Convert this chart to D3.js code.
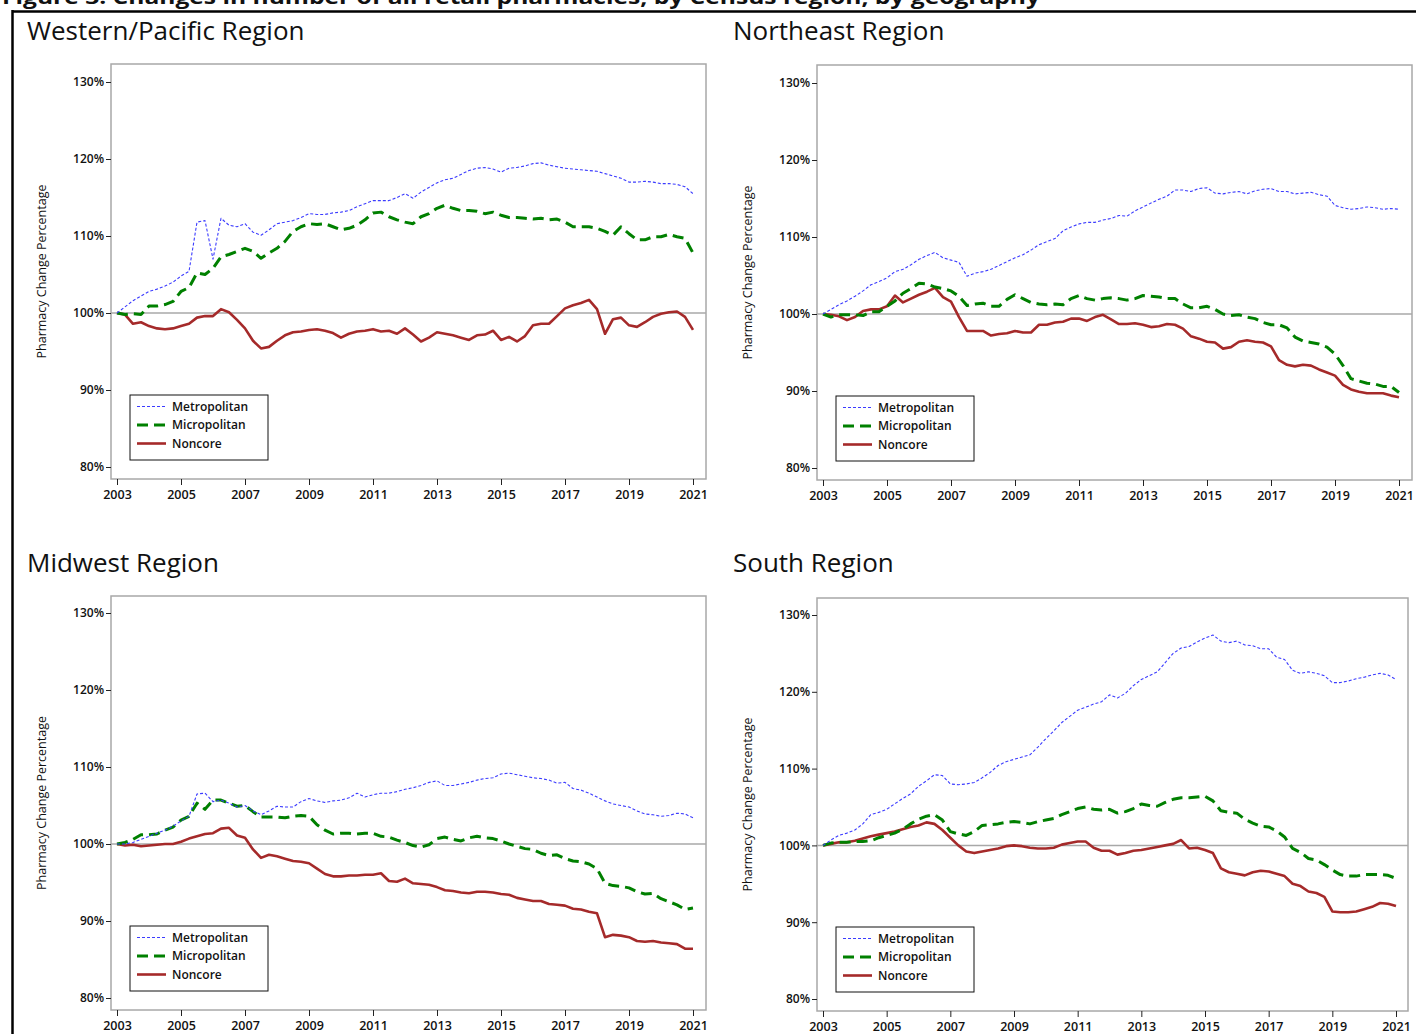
<!DOCTYPE html>
<html>
<head>
    <meta charset="utf-8" />
    <title>Changes in number of all retail pharmacies</title>
    <style>
        body { margin: 0; background: #fff; }
        svg text { font-family: "Open Sans", "Noto Sans", sans-serif; fill: #111; }
        .frame { fill: none; stroke: #a8a8a8; stroke-width: 1.5px; }
        .ref { stroke: #a8a8a8; stroke-width: 1.5px; }
        .axis path { display: none; }
        .axis line { stroke: #222; }
        .axis text { font-size: 12px; font-weight: 600; fill: #111; }
        .xaxis text { font-size: 12.5px; }
        .panel-title { font-size: 26px; font-weight: 400; }
        .ytitle { font-size: 12.5px; }
        .legend rect { fill: #fff; stroke: #111; stroke-width: 1px; }
        .legend text { font-size: 12px; font-weight: 600; }
    </style>
</head>
<body>
<svg width="1416" height="1034"></svg>
<script src="https://cdn.jsdelivr.net/npm/d3@7"></script>
<script>

    // quarterly time grid, 2003 .. 2021
    var quarters = d3.range(73).map(function(i) { return 2003 + i * 0.25; });
    var yearTicks = [2003, 2005, 2007, 2009, 2011, 2013, 2015, 2017, 2019, 2021];
    var pctTicks = [80, 90, 100, 110, 120, 130];
    var seriesNames = ["Metropolitan", "Micropolitan", "Noncore"];

    // Western/Pacific
    var westMetro = [
        100, 100.8, 101.6, 102.2, 102.8, 103.1, 103.5, 104.0,
        104.8, 105.4, 111.8, 112.0, 107.0, 112.3, 111.4, 111.2,
        111.6, 110.5, 110.1, 110.8, 111.6, 111.8, 112.0, 112.4,
        112.9, 112.8, 112.8, 113.0, 113.1, 113.3, 113.8, 114.2,
        114.6, 114.6, 114.6, 115.0, 115.5, 114.9, 115.7, 116.3,
        116.9, 117.3, 117.5, 118.0, 118.5, 118.8, 118.9, 118.7,
        118.3, 118.8, 118.9, 119.1, 119.4, 119.5, 119.2, 119.0,
        118.8, 118.7, 118.6, 118.5, 118.4, 118.1, 117.8, 117.5,
        117.0, 117.0, 117.1, 117.0, 116.8, 116.8, 116.7, 116.4,
        115.5];
    var westMicro = [
        100, 99.8, 99.9, 99.8, 100.9, 100.9, 101.1, 101.5,
        102.8, 103.3, 105.2, 105.0, 105.8, 107.3, 107.6, 108.0,
        108.4, 108.0, 107.1, 107.8, 108.4, 109.3, 110.6, 111.2,
        111.6, 111.5, 111.6, 111.2, 110.8, 111.0, 111.4, 112.1,
        113.0, 113.1, 112.5, 112.1, 111.8, 111.6, 112.5, 112.9,
        113.6, 114.0, 113.6, 113.3, 113.3, 113.2, 112.9, 113.1,
        112.7, 112.4, 112.4, 112.3, 112.2, 112.3, 112.1, 112.2,
        111.8, 111.2, 111.2, 111.2, 111.0, 110.6, 110.1, 111.2,
        110.3, 109.5, 109.5, 109.9, 109.9, 110.2, 109.9, 109.7,
        107.8];
    var westNoncore = [
        100, 99.8, 98.6, 98.8, 98.3, 98.0, 97.9, 98.0,
        98.3, 98.6, 99.4, 99.6, 99.6, 100.5, 100.1, 99.1,
        98.0, 96.4, 95.4, 95.6, 96.4, 97.1, 97.5, 97.6,
        97.8, 97.9, 97.7, 97.4, 96.8, 97.3, 97.6, 97.7,
        97.9, 97.6, 97.7, 97.3, 98.0, 97.2, 96.3, 96.8,
        97.5, 97.3, 97.1, 96.8, 96.5, 97.1, 97.2, 97.7,
        96.5, 96.9, 96.3, 97.0, 98.4, 98.6, 98.6, 99.6,
        100.6, 101.0, 101.3, 101.7, 100.5, 97.3, 99.2, 99.4,
        98.4, 98.2, 98.8, 99.5, 99.9, 100.1, 100.2, 99.5,
        97.8];

    // Northeast
    var northeastMetro = [
        100, 100.6, 101.2, 101.7, 102.3, 103.0, 103.8, 104.2,
        104.7, 105.5, 105.8, 106.4, 107.1, 107.6, 108.0, 107.3,
        107.0, 106.7, 104.9, 105.3, 105.5, 105.8, 106.3, 106.8,
        107.3, 107.7, 108.3, 109.0, 109.4, 109.8, 110.8, 111.3,
        111.7, 111.9, 111.9, 112.2, 112.4, 112.8, 112.7, 113.4,
        113.9, 114.4, 114.9, 115.3, 116.1, 116.1, 115.9, 116.3,
        116.4, 115.7, 115.6, 115.8, 115.9, 115.6, 116.0, 116.2,
        116.3, 115.9, 115.9, 115.6, 115.7, 115.8, 115.5, 115.3,
        114.1, 113.8, 113.6, 113.7, 113.9, 113.8, 113.6, 113.7,
        113.6];
    var northeastMicro = [
        100, 99.6, 99.9, 99.9, 99.9, 99.8, 100.3, 100.3,
        101.0, 101.7, 102.7, 103.3, 104.0, 103.9, 103.5, 103.3,
        103.0, 102.3, 101.1, 101.3, 101.4, 101.0, 101.0, 101.9,
        102.5, 102.0, 101.5, 101.3, 101.2, 101.3, 101.2, 102.0,
        102.4, 102.0, 101.8, 102.0, 102.1, 102.0, 101.8, 102.0,
        102.4, 102.3, 102.2, 102.0, 102.0, 101.3, 100.8, 100.8,
        101.0, 100.6, 100.0, 99.8, 99.9, 99.6, 99.4, 98.9,
        98.6, 98.6, 98.2, 97.0, 96.5, 96.3, 96.1, 95.7,
        94.8, 93.3, 91.6, 91.3, 91.0, 90.9, 90.6, 90.6,
        89.8];
    var northeastNoncore = [
        100, 99.9, 99.7, 99.2, 99.6, 100.4, 100.6, 100.6,
        101.0, 102.4, 101.5, 102.0, 102.5, 102.9, 103.4, 102.2,
        101.6, 99.6, 97.8, 97.8, 97.8, 97.2, 97.4, 97.5,
        97.8, 97.6, 97.6, 98.6, 98.6, 98.9, 99.0, 99.4,
        99.4, 99.1, 99.6, 99.9, 99.3, 98.7, 98.7, 98.8,
        98.6, 98.3, 98.4, 98.7, 98.6, 98.1, 97.1, 96.8,
        96.4, 96.3, 95.5, 95.7, 96.4, 96.6, 96.4, 96.3,
        95.8, 94.0, 93.4, 93.2, 93.4, 93.3, 92.8, 92.4,
        92.0, 90.8, 90.2, 89.9, 89.7, 89.7, 89.7, 89.4,
        89.2];

    // Midwest
    var midwestMetro = [
        100, 100.0, 100.2, 100.6, 101.0, 101.4, 101.8, 102.3,
        103.0, 103.6, 106.5, 106.6, 105.5, 105.7, 105.3, 104.8,
        105.0, 104.3, 103.8, 104.3, 104.9, 104.8, 104.8, 105.5,
        105.9, 105.6, 105.4, 105.6, 105.7, 106.0, 106.6, 106.1,
        106.4, 106.6, 106.6, 106.8, 107.1, 107.3, 107.6, 108.0,
        108.2, 107.6, 107.6, 107.8, 108.0, 108.3, 108.5, 108.6,
        109.1, 109.2, 109.0, 108.8, 108.6, 108.5, 108.3, 107.9,
        108.0, 107.2, 107.0, 106.6, 106.1, 105.6, 105.2, 105.0,
        104.8, 104.3, 103.9, 103.8, 103.6, 103.7, 104.0, 103.9,
        103.4];
    var midwestMicro = [
        100, 100.2, 100.6, 101.2, 101.2, 101.3, 101.8, 102.2,
        103.1, 103.6, 105.3, 104.5, 105.7, 105.7, 105.3, 104.9,
        105.0, 104.2, 103.5, 103.5, 103.5, 103.4, 103.6, 103.7,
        103.6, 102.5, 101.8, 101.3, 101.4, 101.4, 101.3, 101.4,
        101.4, 101.0, 100.9, 100.5, 100.2, 99.8, 99.6, 99.9,
        100.7, 100.9, 100.6, 100.4, 100.8, 101.0, 100.8, 100.7,
        100.4, 100.0, 99.7, 99.4, 99.3, 98.8, 98.5, 98.6,
        98.1, 97.8, 97.7, 97.4, 96.8, 94.9, 94.6, 94.5,
        94.3, 93.8, 93.5, 93.6, 92.9, 92.5, 92.1, 91.5,
        91.7];
    var midwestNoncore = [
        100, 99.8, 99.9, 99.7, 99.8, 99.9, 100.0, 100.0,
        100.3, 100.7, 101.0, 101.3, 101.4, 102.0, 102.1, 101.1,
        100.8, 99.3, 98.2, 98.6, 98.4, 98.1, 97.8, 97.7,
        97.5, 96.8, 96.1, 95.8, 95.8, 95.9, 95.9, 96.0,
        96.0, 96.2, 95.2, 95.1, 95.5, 94.9, 94.8, 94.7,
        94.4, 94.0, 93.9, 93.7, 93.6, 93.8, 93.8, 93.7,
        93.5, 93.4, 93.0, 92.8, 92.6, 92.6, 92.2, 92.1,
        92.0, 91.6, 91.5, 91.2, 91.0, 87.9, 88.2, 88.1,
        87.9, 87.4, 87.3, 87.4, 87.2, 87.1, 87.0, 86.4,
        86.4];

    // South
    var southMetro = [
        100, 100.7, 101.3, 101.6, 102.0, 102.8, 104.0, 104.3,
        104.7, 105.4, 106.1, 106.7, 107.7, 108.4, 109.2, 109.1,
        108.0, 107.9, 108.0, 108.2, 108.8, 109.5, 110.4, 110.9,
        111.2, 111.5, 111.8, 112.8, 113.9, 114.9, 116.0, 116.8,
        117.6, 118.0, 118.4, 118.7, 119.6, 119.2, 119.8, 120.8,
        121.6, 122.1, 122.6, 123.8, 125.0, 125.7, 125.9, 126.5,
        127.0, 127.4, 126.6, 126.4, 126.6, 126.1, 126.0, 125.6,
        125.6, 124.5, 124.2, 122.8, 122.4, 122.6, 122.4, 122.1,
        121.2, 121.2, 121.4, 121.7, 121.9, 122.2, 122.4, 122.2,
        121.6];
    var southMicro = [
        100, 100.3, 100.4, 100.4, 100.5, 100.5, 100.6, 101.0,
        101.3, 101.6, 102.1, 102.8, 103.4, 103.8, 104.0, 103.3,
        101.8, 101.5, 101.3, 101.8, 102.6, 102.7, 102.8, 103.0,
        103.1, 103.0, 102.8, 103.1, 103.3, 103.5, 104.0, 104.4,
        104.8, 105.0, 104.7, 104.6, 104.7, 104.2, 104.4, 104.8,
        105.4, 105.2, 105.1, 105.6, 106.0, 106.2, 106.2, 106.3,
        106.4, 105.8, 104.5, 104.3, 104.2, 103.4, 102.9, 102.5,
        102.4, 101.9, 101.1, 99.6, 99.1, 98.3, 98.1, 97.5,
        96.8, 96.2, 96.0, 96.0, 96.2, 96.2, 96.2, 96.1,
        95.7];
    var southNoncore = [
        100, 100.2, 100.4, 100.4, 100.6, 100.9, 101.2, 101.4,
        101.6, 101.8, 102.1, 102.4, 102.6, 103.0, 102.8, 102.0,
        101.0, 100.0, 99.2, 99.0, 99.2, 99.4, 99.6, 99.9,
        100.0, 99.9, 99.7, 99.6, 99.6, 99.7, 100.1, 100.3,
        100.5, 100.5, 99.7, 99.3, 99.3, 98.8, 99.0, 99.3,
        99.4, 99.6, 99.8, 100.0, 100.2, 100.7, 99.6, 99.7,
        99.4, 99.0, 97.0, 96.5, 96.3, 96.1, 96.5, 96.7,
        96.6, 96.3, 96.0, 95.0, 94.7, 94.0, 93.8, 93.3,
        91.4, 91.3, 91.3, 91.4, 91.7, 92.0, 92.5, 92.4,
        92.1];

    var svg = d3.select("svg");

    var styles = [
        { color: "#3c3cff", width: 1.1, dash: "3,2" },
        { color: "#008000", width: 3, dash: "11,6" },
        { color: "#a52a2a", width: 2.6, dash: null }
    ];

    var panels = [
        { title: "Western/Pacific Region", tx: 27, ty: 40,
          left: 111, right: 706, top: 64, bottom: 479, x0: 117, x1: 693, y80: 467, y130: 82,
          series: [westMetro, westMicro, westNoncore] },
        { title: "Northeast Region", tx: 733, ty: 40,
          left: 817, right: 1412, top: 65, bottom: 480, x0: 823, x1: 1399, y80: 468, y130: 83,
          series: [northeastMetro, northeastMicro, northeastNoncore] },
        { title: "Midwest Region", tx: 27, ty: 572,
          left: 111, right: 706, top: 596, bottom: 1010, x0: 117, x1: 693, y80: 998, y130: 613,
          series: [midwestMetro, midwestMicro, midwestNoncore] },
        { title: "South Region", tx: 733, ty: 572,
          left: 817, right: 1408, top: 598, bottom: 1011, x0: 823, x1: 1396, y80: 999, y130: 615,
          series: [southMetro, southMicro, southNoncore] }
    ];

    // figure caption, clipped by the top of the page as in the source
    svg.append("text")
        .attr("x", 2)
        .attr("y", 4)
        .attr("textLength", 1038)
        .attr("lengthAdjust", "spacingAndGlyphs")
        .style("font-size", "20px")
        .style("font-weight", 700)
        .text("Figure 3. Changes in number of all retail pharmacies, by Census region, by geography");

    svg.append("line")
        .attr("x1", 12).attr("x2", 1416).attr("y1", 11.5).attr("y2", 11.5)
        .attr("stroke", "#000").attr("stroke-width", 2.5);
    svg.append("line")
        .attr("x1", 12.5).attr("x2", 12.5).attr("y1", 10).attr("y2", 1034)
        .attr("stroke", "#000").attr("stroke-width", 2.5);

    panels.forEach(function(p) {
        var g = svg.append("g");

        var x = d3.scaleLinear().domain([2003, 2021]).range([p.x0, p.x1]);
        var y = d3.scaleLinear().domain([80, 130]).range([p.y80, p.y130]);

        g.append("text")
            .attr("class", "panel-title")
            .attr("x", p.tx)
            .attr("y", p.ty)
            .text(p.title);

        g.append("rect")
            .attr("class", "frame")
            .attr("x", p.left).attr("y", p.top)
            .attr("width", p.right - p.left).attr("height", p.bottom - p.top);

        g.append("g")
            .attr("class", "axis")
            .attr("transform", "translate(" + p.left + ",0)")
            .call(d3.axisLeft(y).tickValues(pctTicks).tickSize(5).tickPadding(2)
                .tickFormat(function(d) { return d + "%"; }));

        g.append("g")
            .attr("class", "axis xaxis")
            .attr("transform", "translate(0," + p.bottom + ")")
            .call(d3.axisBottom(x).tickValues(yearTicks).tickSize(6).tickPadding(5)
                .tickFormat(d3.format("d")));

        g.append("text")
            .attr("class", "ytitle")
            .attr("transform", "translate(" + (p.left - 65) + "," + ((p.top + p.bottom) / 2) + ") rotate(-90)")
            .attr("text-anchor", "middle")
            .text("Pharmacy Change Percentage");

        g.append("line")
            .attr("class", "ref")
            .attr("x1", p.left).attr("x2", p.right)
            .attr("y1", y(100)).attr("y2", y(100));

        var line = d3.line()
            .x(function(d) { return x(d[0]); })
            .y(function(d) { return y(d[1]); });

        // noncore first so the dotted metro line stays on top
        [2, 1, 0].forEach(function(k) {
            var pts = quarters.map(function(q, i) { return [q, p.series[k][i]]; });
            g.append("path")
                .datum(pts)
                .attr("fill", "none")
                .attr("stroke", styles[k].color)
                .attr("stroke-width", styles[k].width)
                .attr("stroke-dasharray", styles[k].dash)
                .attr("stroke-linejoin", "round")
                .attr("d", line);
        });

        // legend
        var lg = g.append("g")
            .attr("class", "legend")
            .attr("transform", "translate(" + (p.left + 19) + "," + (p.bottom - 84) + ")");
        lg.append("rect").attr("width", 138).attr("height", 65);
        seriesNames.forEach(function(name, k) {
            var ly = 11.5 + k * 18.5;
            lg.append("line")
                .attr("x1", 7).attr("x2", 36).attr("y1", ly).attr("y2", ly)
                .attr("stroke", styles[k].color)
                .attr("stroke-width", styles[k].width)
                .attr("stroke-dasharray", styles[k].dash);
            lg.append("text")
                .attr("x", 42).attr("y", ly + 4)
                .text(name);
        });
    });

</script>
</body>
</html>
